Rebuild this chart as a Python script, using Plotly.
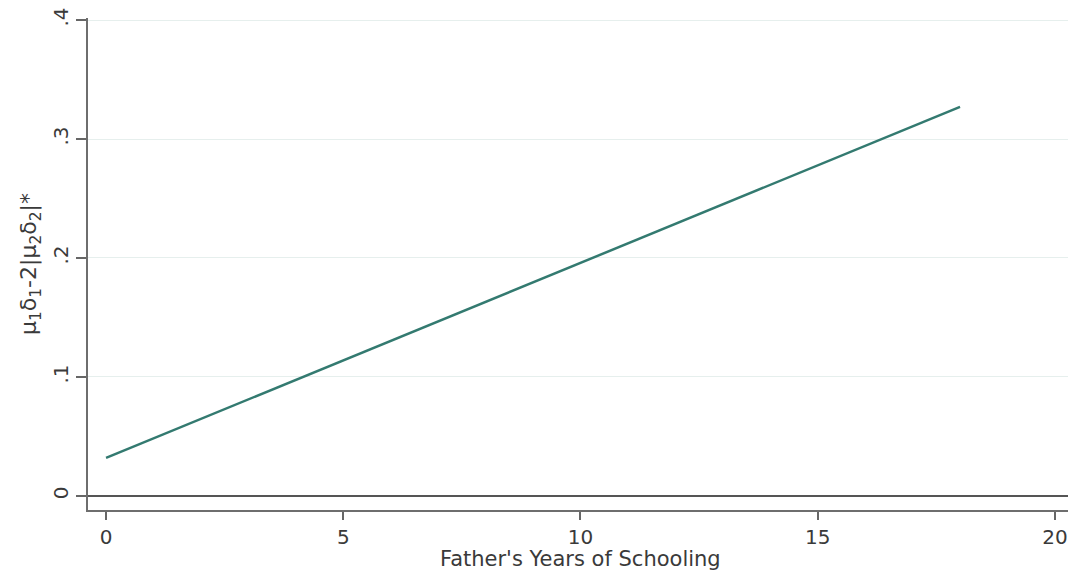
import plotly.graph_objects as go

years = [0, 5, 10, 15, 18]
values = [0.032, 0.114, 0.196, 0.278, 0.327]

x_ticks = [0, 5, 10, 15, 20]
y_ticks = [0, 0.1, 0.2, 0.3, 0.4]
y_tick_labels = ["0", ".1", ".2", ".3", ".4"]

FONT = "DejaVu Sans, Liberation Sans, Arial, sans-serif"

fig = go.Figure()
fig.add_trace(go.Scatter(x=years, y=values, mode="lines",
                         line=dict(color="#337a70", width=2.5), showlegend=False))

# page body adds an 8px offset; size and margins compensate for it
fig.update_layout(
    width=1068, height=565,
    margin=dict(l=80, r=4, t=10, b=63, autoexpand=False),
    paper_bgcolor="white", plot_bgcolor="white",
    font=dict(family=FONT, size=20, color="#3a3a3a"),
)
fig.update_xaxes(
    range=[-0.38, 20.36], tickvals=x_ticks, ticks="outside", ticklen=8,
    tickcolor="#666", tickwidth=1.5, showline=True, linecolor="#6e6e6e", linewidth=2,
    showgrid=False, zeroline=False, automargin=False,
    tickfont=dict(size=20), ticklabeloverflow="allow",
)
fig.update_yaxes(
    range=[-0.0118, 0.4017], tickvals=y_ticks, ticktext=y_tick_labels,
    tickangle=-90, ticks="outside", ticklen=10, tickcolor="#666", tickwidth=1.5,
    showline=True, linecolor="#6e6e6e", linewidth=2,
    showgrid=True, gridcolor="#e6efed", gridwidth=1,
    zeroline=True, zerolinecolor="#555", zerolinewidth=2, automargin=False,
    tickfont=dict(size=20), ticklabeloverflow="allow",
    title=dict(text="μ<sub>1</sub>δ<sub>1</sub>-2|μ<sub>2</sub>δ<sub>2</sub>|*", standoff=6, font=dict(size=22)),
)
fig.add_annotation(
    text="Father's Years of Schooling", xref="paper", yref="paper",
    x=0.5, y=-0.1, xanchor="center", yanchor="middle", showarrow=False,
    font=dict(size=21, family=FONT, color="#3a3a3a"),
)

fig.write_html("out.html")
